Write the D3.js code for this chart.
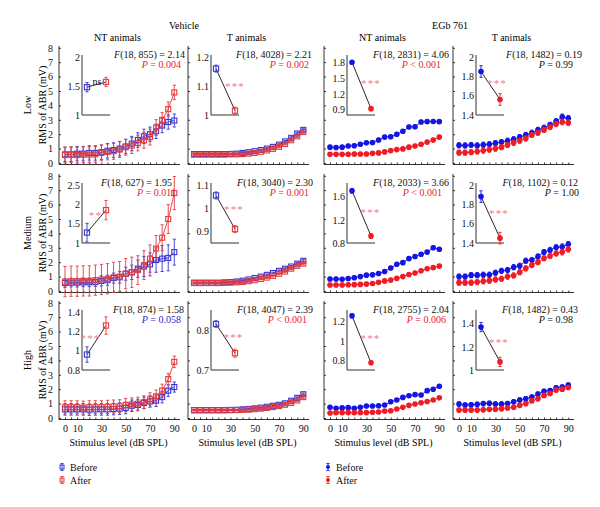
<!DOCTYPE html>
<html><head><meta charset="utf-8">
<script src="https://cdn.jsdelivr.net/npm/d3@7"></script>
<style>
body{margin:0;background:#fff}
text{font-family:"Liberation Serif","Times New Roman",serif;}
</style>
</head><body>
<svg id="c" width="600" height="507"></svg>
<script>
// ---------- DATA ----------
const levels = [0,5,10,15,20,25,30,35,40,45,50,55,60,65,70,75,80,85,90];
const xTickLabels = [0,10,30,50,70,90];
const yTickLabels = [0,1,2,3,4,5,6,7,8];
const groupTitles = ["Vehicle","EGb 761"];
const colTitles = ["NT animals","T animals","NT animals","T animals"];
const rowTitles = ["Low","Medium","High"];
const seriesNames = ["Before","After"];

// Vehicle, NT animals
const vehNT_low_b  = [0.6,0.6,0.65,0.65,0.7,0.7,0.75,0.85,0.9,1.0,1.15,1.35,1.6,1.85,2.0,2.2,2.6,2.85,2.95];
const vehNT_low_be = [0.5,0.5,0.5,0.5,0.5,0.5,0.5,0.5,0.5,0.5,0.5,0.5,0.5,0.5,0.5,0.5,0.5,0.5,0.45];
const vehNT_low_a  = [0.55,0.58,0.55,0.58,0.58,0.6,0.7,0.77,0.81,0.93,1.09,1.21,1.39,1.58,1.8,2.46,3.0,3.74,4.9];
const vehNT_low_ae = [0.55,0.55,0.55,0.55,0.55,0.55,0.55,0.55,0.55,0.55,0.55,0.55,0.55,0.55,0.55,0.55,0.5,0.5,0.5];
const vehNT_med_b  = [0.55,0.58,0.58,0.6,0.6,0.62,0.7,0.75,0.9,0.95,1.2,1.3,1.55,1.7,1.85,2.15,2.25,2.3,2.7];
const vehNT_med_be = [0.3,0.3,0.3,0.3,0.3,0.3,0.35,0.35,0.35,0.4,0.45,0.5,0.6,0.7,0.8,0.85,0.9,0.9,0.9];
const vehNT_med_a  = [0.65,0.68,0.68,0.7,0.7,0.75,0.8,0.85,0.95,1.0,1.2,1.3,1.45,1.8,2.25,2.95,3.7,5.0,6.8];
const vehNT_med_ae = [1.05,1.05,1.05,1.05,1.05,1.05,1.05,1.05,1.05,1.05,1.05,1.05,1.0,1.0,0.95,0.9,0.9,1.0,1.15];
const vehNT_high_b  = [0.6,0.6,0.6,0.6,0.58,0.6,0.6,0.6,0.62,0.65,0.7,0.85,0.9,1.05,1.15,1.2,1.45,1.9,2.15];
const vehNT_high_be = [0.4,0.4,0.4,0.4,0.4,0.4,0.4,0.4,0.4,0.4,0.4,0.4,0.4,0.4,0.4,0.4,0.4,0.4,0.35];
const vehNT_high_a  = [0.75,0.75,0.75,0.72,0.75,0.75,0.75,0.78,0.8,0.82,0.9,0.95,1.0,1.1,1.3,1.5,1.9,2.7,3.9];
const vehNT_high_ae = [0.45,0.45,0.45,0.45,0.45,0.45,0.45,0.45,0.45,0.45,0.45,0.45,0.45,0.45,0.45,0.45,0.45,0.4,0.4];
// Vehicle, T animals
const vehT_low_b  = [0.62,0.62,0.62,0.62,0.62,0.62,0.63,0.65,0.7,0.75,0.82,0.9,1.0,1.12,1.28,1.5,1.75,2.05,2.3];
const vehT_low_be = [0.05,0.05,0.05,0.05,0.05,0.05,0.05,0.05,0.05,0.05,0.05,0.05,0.06,0.06,0.06,0.07,0.07,0.08,0.08];
const vehT_low_a  = [0.58,0.58,0.58,0.58,0.58,0.58,0.6,0.6,0.62,0.65,0.7,0.78,0.87,0.98,1.12,1.32,1.58,1.85,2.15];
const vehT_low_ae = [0.05,0.05,0.05,0.05,0.05,0.05,0.05,0.05,0.05,0.05,0.05,0.05,0.06,0.06,0.06,0.07,0.07,0.08,0.08];
const vehT_med_b  = [0.58,0.58,0.58,0.58,0.58,0.6,0.62,0.66,0.72,0.8,0.9,1.0,1.12,1.25,1.4,1.55,1.7,1.9,2.1];
const vehT_med_be = [0.05,0.05,0.05,0.05,0.05,0.05,0.05,0.05,0.05,0.05,0.05,0.05,0.06,0.06,0.06,0.07,0.07,0.08,0.08];
const vehT_med_a  = [0.55,0.55,0.55,0.55,0.55,0.56,0.58,0.6,0.63,0.68,0.75,0.83,0.93,1.05,1.2,1.35,1.55,1.75,1.9];
const vehT_med_ae = [0.05,0.05,0.05,0.05,0.05,0.05,0.05,0.05,0.05,0.05,0.05,0.05,0.06,0.06,0.06,0.07,0.07,0.08,0.08];
const vehT_high_b  = [0.55,0.55,0.55,0.55,0.55,0.55,0.56,0.57,0.6,0.63,0.67,0.72,0.78,0.85,0.92,1.02,1.2,1.4,1.65];
const vehT_high_be = [0.04,0.04,0.04,0.04,0.04,0.04,0.04,0.04,0.04,0.04,0.05,0.05,0.05,0.05,0.06,0.06,0.07,0.07,0.08];
const vehT_high_a  = [0.53,0.53,0.53,0.53,0.53,0.53,0.54,0.55,0.56,0.58,0.61,0.65,0.7,0.76,0.83,0.92,1.05,1.22,1.45];
const vehT_high_ae = [0.04,0.04,0.04,0.04,0.04,0.04,0.04,0.04,0.04,0.04,0.05,0.05,0.05,0.05,0.06,0.06,0.07,0.07,0.08];
// EGb 761, NT animals
const egbNT_low_b  = [1.1,1.08,1.1,1.18,1.2,1.3,1.4,1.42,1.6,1.8,1.82,2.0,2.2,2.5,2.52,2.85,2.87,2.88,2.87];
const egbNT_low_be = [0.12,0.12,0.12,0.12,0.12,0.12,0.12,0.12,0.12,0.12,0.12,0.12,0.12,0.12,0.12,0.12,0.12,0.12,0.12];
const egbNT_low_a  = [0.6,0.6,0.6,0.6,0.62,0.62,0.63,0.67,0.7,0.77,0.86,0.93,0.98,1.1,1.18,1.3,1.45,1.6,1.8];
const egbNT_low_ae = [0.12,0.12,0.12,0.12,0.12,0.12,0.12,0.12,0.12,0.12,0.12,0.12,0.12,0.12,0.12,0.12,0.12,0.12,0.12];
const egbNT_med_b  = [0.83,0.83,0.82,0.87,0.92,1.0,1.1,1.12,1.22,1.35,1.6,1.85,1.97,2.25,2.4,2.55,2.7,3.0,2.9];
const egbNT_med_be = [0.12,0.12,0.12,0.12,0.12,0.12,0.12,0.12,0.12,0.12,0.12,0.12,0.12,0.12,0.12,0.12,0.12,0.12,0.12];
const egbNT_med_a  = [0.42,0.42,0.42,0.43,0.44,0.46,0.48,0.52,0.6,0.7,0.76,0.88,1.0,1.15,1.25,1.4,1.55,1.62,1.73];
const egbNT_med_ae = [0.12,0.12,0.12,0.12,0.12,0.12,0.12,0.12,0.12,0.12,0.12,0.12,0.12,0.12,0.12,0.12,0.12,0.12,0.12];
const egbNT_high_b  = [0.74,0.67,0.7,0.72,0.67,0.74,0.83,0.83,0.85,0.9,1.13,1.25,1.43,1.55,1.62,1.6,1.9,2.0,2.2];
const egbNT_high_be = [0.1,0.1,0.1,0.1,0.1,0.1,0.1,0.1,0.1,0.1,0.1,0.1,0.1,0.1,0.1,0.1,0.1,0.1,0.1];
const egbNT_high_a  = [0.35,0.37,0.37,0.37,0.37,0.37,0.37,0.4,0.42,0.48,0.5,0.62,0.74,0.88,0.97,1.06,1.15,1.25,1.4];
const egbNT_high_ae = [0.1,0.1,0.1,0.1,0.1,0.1,0.1,0.1,0.1,0.1,0.1,0.1,0.1,0.1,0.1,0.1,0.1,0.1,0.1];
// EGb 761, T animals
const egbT_low_b  = [1.23,1.22,1.25,1.22,1.27,1.3,1.38,1.45,1.55,1.65,1.8,1.95,2.1,2.3,2.45,2.65,2.9,3.2,3.1];
const egbT_low_be = [0.18,0.18,0.18,0.18,0.18,0.18,0.18,0.18,0.18,0.18,0.18,0.18,0.18,0.18,0.18,0.18,0.18,0.2,0.2];
const egbT_low_a  = [0.72,0.72,0.75,0.8,0.86,0.93,1.0,1.1,1.25,1.4,1.55,1.7,1.95,2.1,2.3,2.5,2.7,2.85,2.8];
const egbT_low_ae = [0.18,0.18,0.18,0.18,0.18,0.18,0.18,0.18,0.18,0.18,0.18,0.18,0.18,0.18,0.18,0.18,0.18,0.2,0.2];
const egbT_med_b  = [1.0,1.0,1.1,1.1,1.13,1.13,1.27,1.4,1.45,1.65,1.75,2.1,2.15,2.4,2.7,2.85,3.03,3.07,3.24];
const egbT_med_be = [0.18,0.18,0.18,0.18,0.18,0.18,0.18,0.18,0.18,0.18,0.18,0.18,0.18,0.18,0.18,0.18,0.18,0.2,0.2];
const egbT_med_a  = [0.58,0.58,0.58,0.62,0.67,0.72,0.8,0.85,1.0,1.08,1.3,1.57,1.8,2.0,2.27,2.43,2.6,2.7,2.9];
const egbT_med_ae = [0.18,0.18,0.18,0.18,0.18,0.18,0.18,0.18,0.18,0.18,0.18,0.18,0.18,0.18,0.18,0.18,0.18,0.2,0.2];
const egbT_high_b  = [0.97,0.9,0.92,0.95,1.0,1.02,0.97,0.97,1.0,1.13,1.25,1.34,1.45,1.66,1.85,1.9,2.1,2.15,2.28];
const egbT_high_be = [0.15,0.15,0.15,0.15,0.15,0.15,0.15,0.15,0.15,0.15,0.15,0.15,0.15,0.15,0.15,0.15,0.15,0.15,0.15];
const egbT_high_a  = [0.55,0.55,0.55,0.55,0.57,0.6,0.6,0.65,0.7,0.74,0.88,1.0,1.2,1.34,1.57,1.7,1.94,2.0,2.12];
const egbT_high_ae = [0.15,0.15,0.15,0.15,0.15,0.15,0.15,0.15,0.15,0.15,0.15,0.15,0.15,0.15,0.15,0.15,0.15,0.15,0.15];

// Insets (row-major: row Low/Medium/High, col VehNT/VehT/EGbNT/EGbT)
const insetBefore    = [1.48,1.16,1.8,1.85, 1.27,1.055,1.7,1.88, 0.96,0.815,1.26,1.37];
const insetBeforeErr = [0.08,0.012,0.03,0.06, 0.24,0.015,0.04,0.06, 0.08,0.008,0.02,0.04];
const insetAfter     = [1.57,1.015,0.92,1.56, 1.85,0.91,0.92,1.45, 1.26,0.742,0.775,1.07];
const insetAfterErr  = [0.08,0.012,0.03,0.06, 0.25,0.015,0.04,0.06, 0.09,0.01,0.02,0.04];
const insetDomains = [[1,2],[1,1.2],[0.8,1.9],[1.4,2], [1,2.5],[0.85,1.1],[0.8,1.8],[1.4,2], [0.8,1.4],[0.7,0.845],[0.7,1.3],[1,1.5]];
const insetTicks = [[1,1.5,2],[1,1.1,1.2],[0.9,1.2,1.5,1.8],[1.4,1.6,1.8,2],
                    [1,1.5,2,2.5],[0.9,1,1.1],[0.8,1.2,1.6],[1.4,1.6,1.8,2],
                    [0.8,1,1.2,1.4],[0.7,0.8],[0.8,1,1.2],[1,1.2,1.4]];
const sigLabels = ["ns","***","***","***", "**","***","***","***", "***","***","***","***"];

// Statistics
const fStats = ["(18, 855) = 2.14","(18, 4028) = 2.21","(18, 2831) = 4.06","(18, 1482) = 0.19",
                "(18, 627) = 1.95","(18, 3040) = 2.30","(18, 2033) = 3.66","(18, 1102) = 0.12",
                "(18, 874) = 1.58","(18, 4047) = 2.39","(18, 2755) = 2.04","(18, 1482) = 0.43"];
const pStats = [" = 0.004"," = 0.002"," < 0.001"," = 0.99",
                " = 0.011"," = 0.001"," < 0.001"," = 1.00",
                " = 0.058"," < 0.001"," = 0.006"," = 0.98"];
const pKinds = ["sig","sig","sig","ns", "sig","sig","sig","ns", "trend","sig","sig","ns"];

const panelSeries = [
  [vehNT_low_b,vehNT_low_be,vehNT_low_a,vehNT_low_ae],[vehT_low_b,vehT_low_be,vehT_low_a,vehT_low_ae],
  [egbNT_low_b,egbNT_low_be,egbNT_low_a,egbNT_low_ae],[egbT_low_b,egbT_low_be,egbT_low_a,egbT_low_ae],
  [vehNT_med_b,vehNT_med_be,vehNT_med_a,vehNT_med_ae],[vehT_med_b,vehT_med_be,vehT_med_a,vehT_med_ae],
  [egbNT_med_b,egbNT_med_be,egbNT_med_a,egbNT_med_ae],[egbT_med_b,egbT_med_be,egbT_med_a,egbT_med_ae],
  [vehNT_high_b,vehNT_high_be,vehNT_high_a,vehNT_high_ae],[vehT_high_b,vehT_high_be,vehT_high_a,vehT_high_ae],
  [egbNT_high_b,egbNT_high_be,egbNT_high_a,egbNT_high_ae],[egbT_high_b,egbT_high_be,egbT_high_a,egbT_high_ae]
];

// ---------- LAYOUT / STYLE ----------
const colLeft = [59,188,324,453];
const rowZero = [163,291,418];
const panelW = 121;
const fRight = [[185,312,449,582],[172,313,449,578],[184,313,449,578]];
const pRight = [[181,309,441,573],[176,309,442,579],[181,307,446,573]];
const sigOffset = [[[15,24],[24,27],[24,24],[21,24]],[[13.5,28],[23,22],[23.5,25],[23,26]],[[8.5,24],[22.5,23],[23.5,24],[23,28]]];
const C = {
  sqBlue:"#3434d2", sqRed:"#e43a3e", dotBlue:"#1414e6", dotRed:"#ee1c24",
  pRed:"#e8242c", pBlue:"#2a2ad6", star:"#f07a84", axis:"#333"
};

const svg = d3.select("#c");
const fs = 10;

// Group titles
svg.append("text").attr("x",184).attr("y",28.5).attr("text-anchor","middle").attr("font-size",fs).text(groupTitles[0]);
svg.append("text").attr("x",450).attr("y",28.5).attr("text-anchor","middle").attr("font-size",fs).text(groupTitles[1]);
colTitles.forEach((t,c)=>{
  svg.append("text").attr("x",colLeft[c]+panelW/2-2).attr("y",40.5).attr("text-anchor","middle").attr("font-size",fs).text(t);
});
rowTitles.forEach((t,r)=>{
  const cy = rowZero[r]-58;
  svg.append("text").attr("transform",`translate(31,${cy}) rotate(-90)`).attr("text-anchor","middle").attr("font-size",fs).text(t);
  svg.append("text").attr("transform",`translate(45.5,${cy}) rotate(-90)`).attr("text-anchor","middle").attr("font-size",fs).text("RMS of ABR (mV)");
});

function errBars(g, pts, x, y, color, cap, sw){
  g.selectAll(null).data(pts).enter().append("line")
    .attr("x1",d=>x(d.x)).attr("x2",d=>x(d.x)).attr("y1",d=>y(d.v-d.e)).attr("y2",d=>y(d.v+d.e))
    .attr("stroke",color).attr("stroke-width",sw);
  [-1,1].forEach(s=>{
    g.selectAll(null).data(pts).enter().append("line")
      .attr("x1",d=>x(d.x)-cap).attr("x2",d=>x(d.x)+cap).attr("y1",d=>y(d.v+s*d.e)).attr("y2",d=>y(d.v+s*d.e))
      .attr("stroke",color).attr("stroke-width",sw);
  });
}
function marker(g, pts, x, y, color, isSquare, size){
  if(isSquare){
    g.selectAll(null).data(pts).enter().append("rect")
      .attr("x",d=>x(d.x)-size).attr("y",d=>y(d.v)-size).attr("width",2*size).attr("height",2*size)
      .attr("fill","none").attr("stroke",color).attr("stroke-width",1.1);
  } else {
    g.selectAll(null).data(pts).enter().append("circle")
      .attr("cx",d=>x(d.x)).attr("cy",d=>y(d.v)).attr("r",size).attr("fill",color);
  }
}

for(let r=0;r<3;r++){
  for(let c=0;c<4;c++){
    const i = r*4+c;
    const L = colLeft[c], Z = rowZero[r];
    const isVeh = c<2;
    const g = svg.append("g");
    const x = d3.scaleLinear().domain([0,90]).range([L+6,L+115.3]);
    const y = d3.scaleLinear().domain([0,8]).range([Z,Z-115.2]);
    // axis lines
    g.append("line").attr("x1",L).attr("x2",L).attr("y1",Z+1.5).attr("y2",Z-117).attr("stroke",C.axis).attr("stroke-width",1);
    g.append("line").attr("x1",L).attr("x2",L+panelW).attr("y1",Z+1.5).attr("y2",Z+1.5).attr("stroke",C.axis).attr("stroke-width",1);
    // minor x ticks
    const xa = d3.axisBottom(x).tickValues(levels).tickSize(-2).tickFormat("");
    const gx = g.append("g").attr("transform",`translate(0,${Z+1.5})`).call(xa);
    gx.select(".domain").remove();
    gx.selectAll("line").attr("stroke",C.axis);
    if(r===2){
      const xl = d3.axisBottom(x).tickValues(xTickLabels).tickSize(0).tickPadding(5);
      const gl = g.append("g").attr("transform",`translate(0,${Z+1.5})`).call(xl);
      gl.select(".domain").remove();
      gl.selectAll("text").attr("font-size",fs).attr("font-family","Liberation Serif").attr("fill","#111");
      g.append("text").attr("x",L+panelW/2-1).attr("y",Z+27.5).attr("text-anchor","middle").attr("font-size",fs).text("Stimulus level (dB SPL)");
    }
    const ya = d3.axisLeft(y).tickValues(yTickLabels).tickSize(-2).tickPadding(6).tickFormat(c===0? d3.format("d") : "");
    const gy = g.append("g").attr("transform",`translate(${L},0)`).call(ya);
    gy.select(".domain").remove();
    gy.selectAll("line").attr("stroke",C.axis);
    gy.selectAll("text").attr("font-size",fs).attr("font-family","Liberation Serif").attr("fill","#111");

    // series
    const [b,be,a,ae] = panelSeries[i];
    const bp = levels.map((lv,k)=>({x:lv,v:b[k],e:be[k]}));
    const ap = levels.map((lv,k)=>({x:lv,v:a[k],e:ae[k]}));
    const blue = isVeh?C.sqBlue:C.dotBlue, red = isVeh?C.sqRed:C.dotRed;
    const line = d3.line().x(d=>x(d.x)).y(d=>y(d.v));
    [[bp,blue],[ap,red]].forEach(([pts,col])=>{
      g.append("path").attr("d",line(pts)).attr("fill","none").attr("stroke",col).attr("stroke-width",0.9);
      errBars(g, pts, x, y, col, 1.6, 0.9);
      marker(g, pts, x, y, col, isVeh, isVeh?2.5:2.8);
    });

    // stats text
    const tf = g.append("text").attr("x",fRight[r][c]).attr("y",Z-105.5).attr("text-anchor","end").attr("font-size",fs).attr("fill","#111");
    tf.append("tspan").attr("font-style","italic").text("F");
    tf.append("tspan").text(fStats[i]);
    const pc = pKinds[i]==="sig"?C.pRed:(pKinds[i]==="trend"?C.pBlue:"#111");
    const tp = g.append("text").attr("x",pRight[r][c]).attr("y",Z-95).attr("text-anchor","end").attr("font-size",fs).attr("fill",pc);
    tp.append("tspan").attr("font-style","italic").text("P");
    tp.append("tspan").text(pStats[i]);

    // inset
    const ix0 = L+23;
    const ix = d3.scalePoint().domain(seriesNames).range([ix0+5, ix0+24]);
    const iy = d3.scaleLinear().domain(insetDomains[i]).range([Z-48, Z-106]);
    g.append("line").attr("x1",ix0).attr("x2",ix0).attr("y1",Z-48).attr("y2",Z-108).attr("stroke",C.axis).attr("stroke-width",1);
    g.append("line").attr("x1",ix0).attr("x2",ix0+28).attr("y1",Z-48).attr("y2",Z-48).attr("stroke",C.axis).attr("stroke-width",1);
    const iya = d3.axisLeft(iy).tickValues(insetTicks[i]).tickSize(0).tickPadding(2).tickFormat(d=>String(d));
    const giy = g.append("g").attr("transform",`translate(${ix0},0)`).call(iya);
    giy.select(".domain").remove();
    giy.selectAll("text").attr("font-size",fs).attr("font-family","Liberation Serif").attr("fill","#111");
    const ipts = [{x:"Before",v:insetBefore[i],e:insetBeforeErr[i]},{x:"After",v:insetAfter[i],e:insetAfterErr[i]}];
    g.append("line").attr("x1",ix("Before")).attr("y1",iy(insetBefore[i])).attr("x2",ix("After")).attr("y2",iy(insetAfter[i]))
      .attr("stroke","#111").attr("stroke-width",0.9);
    [[ipts[0],blue],[ipts[1],red]].forEach(([p,col])=>{
      errBars(g,[p],ix,iy,col,1.6,0.9);
      marker(g,[p],ix,iy,col,isVeh,isVeh?2.6:2.8);
    });
    const so = sigOffset[r][c];
    const isNs = sigLabels[i]==="ns";
    g.append("text").attr("x",ix0+so[0]).attr("y",Z-106+so[1]+(isNs?3.5:6)).attr("text-anchor","middle")
      .attr("font-size",isNs?fs:11).attr("letter-spacing",isNs?0:1.2)
      .attr("font-family",isNs?"Liberation Serif":"DejaVu Sans")
      .attr("fill",isNs?"#111":C.star).text(sigLabels[i]);
  }
}

// Legends
function legend(x0, isSquare){
  const g = svg.append("g");
  const yy = d3.scalePoint().domain(seriesNames).range([467,480]);
  const cols = isSquare?[C.sqBlue,C.sqRed]:[C.dotBlue,C.dotRed];
  seriesNames.forEach((s,k)=>{
    const cx = x0, cy = yy(s), col = cols[k];
    g.append("line").attr("x1",cx).attr("x2",cx).attr("y1",cy-3.5).attr("y2",cy+3.5).attr("stroke",col).attr("stroke-width",0.9);
    g.append("line").attr("x1",cx-1.6).attr("x2",cx+1.6).attr("y1",cy-3.5).attr("y2",cy-3.5).attr("stroke",col).attr("stroke-width",0.9);
    g.append("line").attr("x1",cx-1.6).attr("x2",cx+1.6).attr("y1",cy+3.5).attr("y2",cy+3.5).attr("stroke",col).attr("stroke-width",0.9);
    if(isSquare) g.append("rect").attr("x",cx-2).attr("y",cy-2).attr("width",4).attr("height",4).attr("fill","none").attr("stroke",col).attr("stroke-width",1);
    else g.append("circle").attr("cx",cx).attr("cy",cy).attr("r",2).attr("fill",col);
    g.append("text").attr("x",x0+8).attr("y",cy+3.5).attr("font-size",fs).attr("fill","#111").text(s);
  });
}
legend(62,true);
legend(328,false);
</script>
</body></html>
